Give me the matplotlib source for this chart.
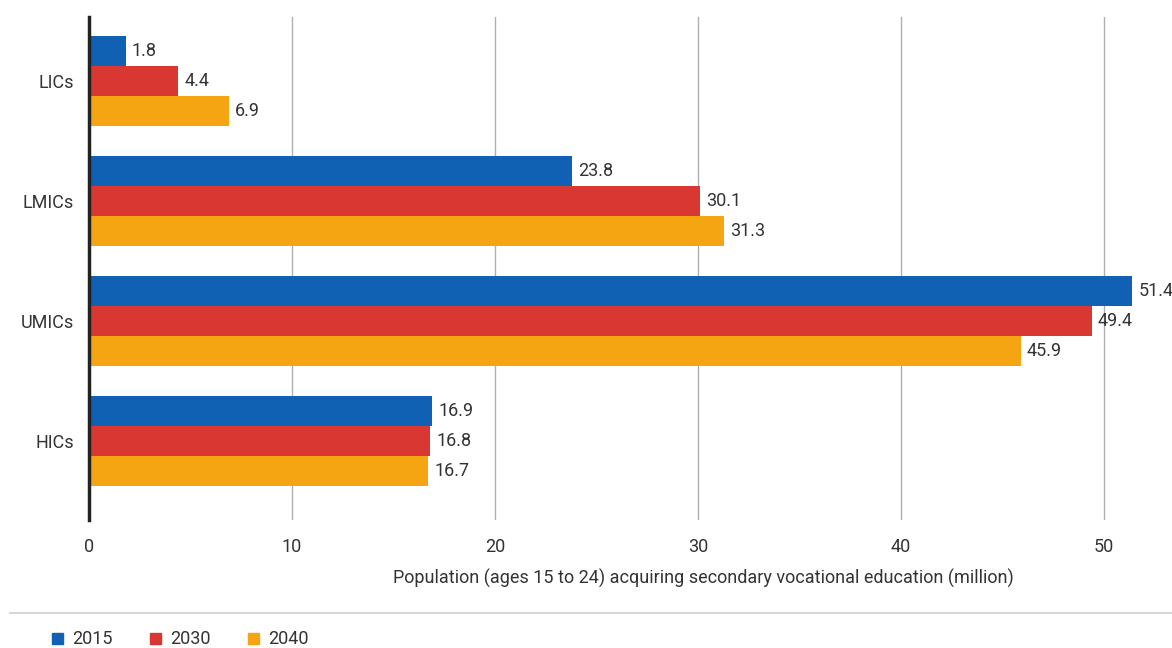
import numpy as np
import matplotlib.pyplot as plt
from matplotlib.patches import Rectangle
from matplotlib.lines import Line2D

# data
groups = ["LICs", "LMICs", "UMICs", "HICs"]
years = ["2015", "2030", "2040"]
v2015 = [1.8, 23.8, 51.4, 16.9]
v2030 = [4.4, 30.1, 49.4, 16.8]
v2040 = [6.9, 31.3, 45.9, 16.7]
colors = ["#1060b4", "#d93832", "#f5a512"]

plt.rcParams['font.family'] = ['Roboto', 'DejaVu Sans']
txt = "#333333"
fs = 13

fig = plt.figure(figsize=(11.72, 6.48), dpi=100)
ax = fig.add_axes([89 / 1172, 1 - 520 / 648, 1 - 89 / 1172, (520 - 17) / 648])

y = np.arange(len(groups))
h = 0.25
for k, vals in enumerate([v2015, v2030, v2040]):
    pos = y + (k - 1) * h
    ax.barh(pos, vals, height=h, color=colors[k], zorder=3)
    for p, v in zip(pos, vals):
        ax.text(v + 0.3, p, f"{v}", va="center", ha="left",
                fontsize=fs, color=txt, zorder=4)

ax.set_xlim(0, 53.35)
ax.set_ylim(3.658, -0.533)
ax.set_yticks(y)
ax.set_yticklabels(groups)
ax.set_xticks(np.arange(0, 51, 10))
ax.tick_params(axis="both", length=0, labelsize=fs, colors=txt)
ax.tick_params(axis="y", pad=11)
ax.tick_params(axis="x", pad=13)
ax.grid(axis="x", color="#b0b0b0", linewidth=1, zorder=0)
for s in ["top", "right", "bottom"]:
    ax.spines[s].set_visible(False)
ax.spines["left"].set_linewidth(2.5)
ax.spines["left"].set_color("#222222")
ax.spines["left"].set_zorder(5)

fig.text(703 / 1172, 1 - 578 / 648,
         "Population (ages 15 to 24) acquiring secondary vocational education (million)",
         ha="center", va="center", fontsize=fs, color=txt)

# separator
fig.add_artist(Line2D([10 / 1172, 1], [1 - 613 / 648] * 2, color="#d0d0d0", linewidth=1.2))

# legend
lx = [52, 150, 248]
for k, yr in enumerate(years):
    fig.add_artist(Rectangle((lx[k] / 1172, 1 - 644 / 648), 11 / 1172, 11 / 648,
                             color=colors[k], transform=fig.transFigure))
    fig.text((lx[k] + 20) / 1172, 1 - 638.5 / 648, yr, ha="left", va="center",
             fontsize=fs, color=txt)

fig.savefig("out.png", dpi=100)
